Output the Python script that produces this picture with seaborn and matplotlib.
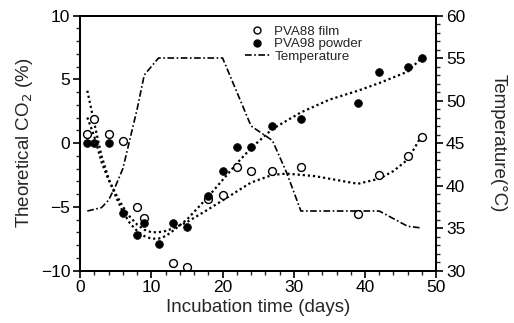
import matplotlib
matplotlib.use("Agg")
import matplotlib.pyplot as plt
import numpy as np
import pandas as pd
import seaborn as sns
from matplotlib.ticker import MultipleLocator
from matplotlib.lines import Line2D

sns.set_style("ticks")
plt.rcParams['font.family'] = ['Liberation Sans', 'DejaVu Sans']

# Measured points
film_days = [1, 2, 4, 6, 8, 9, 13, 15, 18, 20, 22, 24, 27, 31, 39, 42, 46, 48]
film_co2 = [0.7, 1.9, 0.7, 0.15, -5.0, -5.9, -9.4, -9.7, -4.4, -4.1, -1.9, -2.2,
            -2.2, -1.9, -5.6, -2.5, -1.0, 0.5]

powder_days = [1, 2, 4, 6, 8, 9, 11, 13, 15, 18, 20, 22, 24, 27, 31, 39, 42, 46, 48]
powder_co2 = [0.0, 0.0, 0.0, -5.5, -7.2, -6.3, -7.9, -6.3, -6.6, -4.15, -2.2, -0.3,
              -0.35, 1.3, 1.85, 3.1, 5.6, 6.0, 6.7]

# Fitted curves
fit_days_p = [1, 2, 3, 4, 5, 6, 7, 8, 9, 10, 11, 12, 13, 15, 18, 20, 22, 24, 27,
              31, 35, 39, 42, 46, 48]
fit_powder = [4.1, 1.5, -1.0, -2.8, -4.2, -5.4, -6.3, -6.9, -7.3, -7.5, -7.5, -7.3,
              -6.9, -6.0, -4.2, -2.9, -1.6, -0.4, 1.1, 2.4, 3.4, 4.1, 4.7, 5.6, 6.7]
fit_days_f = [1, 2, 3, 4, 5, 6, 7, 8, 9, 10, 11, 12, 13, 15, 18, 20, 22, 24, 27,
              29, 33, 37, 39, 42, 44, 46, 48]
fit_film = [2.0, 0.5, -1.5, -2.9, -4.0, -5.0, -5.8, -6.4, -6.8, -7.0, -7.0, -6.9,
            -6.7, -6.2, -5.2, -4.5, -3.8, -3.1, -2.5, -2.4, -2.6, -3.0, -3.2, -2.8,
            -2.2, -1.3, 0.6]

# Temperature profile
temp_days = [1, 3, 4, 5, 6, 8, 9, 11, 20, 22, 24, 27, 29, 31, 42, 46, 48]
temp_c = [37.0, 37.4, 38.3, 40.0, 42.0, 49.0, 53.0, 55.0, 55.0, 51.0, 47.0, 45.3,
          41.5, 37.0, 37.0, 35.2, 35.0]

temp_style = (0, (4, 1.5, 1, 1.5))
fit_style = (0, (1, 1.3))

fig = plt.figure(figsize=(5.14, 3.23), dpi=100)
ax = fig.add_axes([0.156, 0.1625, 0.6926, 0.7895])
ax2 = ax.twinx()

sns.lineplot(x=fit_days_p, y=fit_powder, ax=ax, color='black', lw=1.6,
             linestyle=fit_style, sort=False)
sns.lineplot(x=fit_days_f, y=fit_film, ax=ax, color='black', lw=1.6,
             linestyle=fit_style, sort=False)
sns.scatterplot(x=film_days, y=film_co2, ax=ax, marker='o', s=32,
                facecolor='white', edgecolor='black', linewidth=1.0, zorder=5)
sns.scatterplot(x=powder_days, y=powder_co2, ax=ax, marker='o', s=32,
                color='black', edgecolor='black', zorder=5)
sns.lineplot(x=temp_days, y=temp_c, ax=ax2, color='black', lw=1.2,
             linestyle=temp_style, sort=False)

ax.set_xlim(0, 50)
ax.set_ylim(-10, 10)
ax2.set_ylim(30, 60)

ax.xaxis.set_major_locator(MultipleLocator(10))
ax.xaxis.set_minor_locator(MultipleLocator(2))
ax.yaxis.set_major_locator(MultipleLocator(5))
ax.yaxis.set_minor_locator(MultipleLocator(1))
ax2.yaxis.set_major_locator(MultipleLocator(5))
ax2.yaxis.set_minor_locator(MultipleLocator(1))

for a in (ax, ax2):
    a.tick_params(which='major', length=5, width=1.2, labelsize=12.5,
                  colors='black', pad=2)
    a.tick_params(which='minor', length=3, width=1.0)
    for sp in a.spines.values():
        sp.set_linewidth(1.4)
        sp.set_color('black')

ax.set_xlabel('Incubation time (days)', fontsize=13.5, labelpad=3)
ax.set_ylabel('Theoretical CO$_2$ (%)', fontsize=13.5, labelpad=4.5)
ax2.set_ylabel('Temperature(°C)', fontsize=13.5, rotation=270, labelpad=30)

handles = [
    Line2D([], [], marker='o', ls='none', mfc='white', mec='black', ms=5),
    Line2D([], [], marker='o', ls='none', mfc='black', mec='black', ms=5),
    Line2D([], [], color='black', lw=1.2, ls=temp_style),
]
ax.legend(handles, ['PVA88 film', 'PVA98 powder', 'Temperature'],
          loc='upper left', bbox_to_anchor=(0.455, 0.97), frameon=False,
          fontsize=9.6, handlelength=1.9, handletextpad=0.3,
          labelspacing=0.0, borderaxespad=0.0, borderpad=0.2)

fig.savefig('out.png', dpi=100)
